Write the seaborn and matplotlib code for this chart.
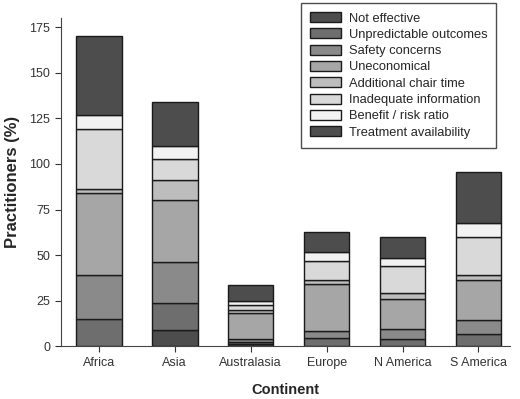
import matplotlib
matplotlib.use("Agg")
import matplotlib.pyplot as plt
import seaborn as sns
import numpy as np

continents = ["Africa", "Asia", "Australasia", "Europe", "N America", "S America"]

reasons = ["Not effective", "Unpredictable outcomes", "Safety concerns", "Uneconomical",
           "Additional chair time", "Inadequate information", "Benefit / risk ratio",
           "Treatment availability"]

not_effective = [0, 9, 1.2, 0, 0, 0]
unpredictable = [15, 15, 1.1, 4.6, 4, 6.6]
safety = [24, 22.5, 1.5, 3.8, 5.3, 7.7]
uneconomical = [45, 33.5, 14.3, 25.8, 16.5, 22]
chair_time = [2.5, 11, 1.9, 2.3, 3.3, 2.6]
inadequate = [32.5, 11.5, 2.8, 10.5, 14.7, 20.9]
benefit_risk = [8, 7.5, 1.8, 4.6, 4.8, 8]
availability = [43, 24, 9.2, 11, 11.4, 28]

series = [not_effective, unpredictable, safety, uneconomical,
          chair_time, inadequate, benefit_risk, availability]
colors = ["#4d4d4d", "#6e6e6e", "#8a8a8a", "#a6a6a6",
          "#bdbdbd", "#d9d9d9", "#f2f2f2", "#4d4d4d"]

sns.set_style("ticks")
plt.rcParams["font.family"] = ["Liberation Sans", "DejaVu Sans"]

fig, ax = plt.subplots(figsize=(5.2, 3.99), dpi=100)

# stack the reasons bar by bar
bottom = np.zeros(len(continents))
for name, vals, col in zip(reasons, series, colors):
    sns.barplot(x=continents, y=vals, bottom=bottom, color=col, edgecolor="#1a1a1a",
                linewidth=1.0, width=0.6, label=name, ax=ax)
    bottom += np.array(vals)

ax.set_ylim(0, 180)
ax.set_xlim(-0.5, 5.41)
ax.set_yticks([0, 25, 50, 75, 100, 125, 150, 175])
ax.set_xlabel("Continent", fontsize=10.5, fontweight="bold", labelpad=10)
ax.set_ylabel("Practitioners (%)", fontsize=12, fontweight="bold", labelpad=7)
ax.tick_params(labelsize=9, colors="#333333", length=4)
sns.despine(ax=ax)
for sp in ax.spines.values():
    sp.set_color("#444444")

leg = ax.legend(loc="upper right", bbox_to_anchor=(0.985, 1.065), fontsize=9.3, frameon=True,
                fancybox=False, edgecolor="#222222", handlelength=2.4, handleheight=0.8,
                handletextpad=0.6, labelspacing=0.3, borderpad=0.7)
leg.get_frame().set_linewidth(1.0)

fig.subplots_adjust(left=0.117, right=0.98, top=0.955, bottom=0.132)
fig.savefig("out.png", dpi=100)
